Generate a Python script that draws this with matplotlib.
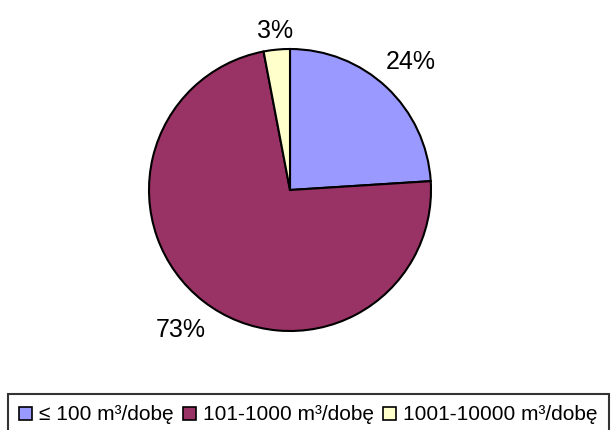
import numpy as np
import matplotlib
matplotlib.use('Agg')
from matplotlib import pyplot as plt

categories = ['≤ 100 m³/dobę', '101-1000 m³/dobę', '1001-10000 m³/dobę']
shares = [24, 73, 3]
labels = ['24%', '73%', '3%']
colors = ['#9999FF', '#993366', '#FFFFCC']
label_dist = [1.25, 1.26, 1.13]

plt.rcParams['font.family'] = ['Liberation Sans', 'DejaVu Sans']

fig = plt.figure(figsize=(6.13, 4.30), dpi=100)
W, H = 613, 430
cx, cy, r = 290, 190, 141
ax = fig.add_axes([(cx - r) / W, (H - cy - r) / H, 2 * r / W, 2 * r / H])

wedges, _ = ax.pie(shares, colors=colors, startangle=90, counterclock=False,
                   wedgeprops=dict(edgecolor='black', linewidth=1.5))
for w, lab, d in zip(wedges, labels, label_dist):
    ang = np.deg2rad((w.theta1 + w.theta2) / 2)
    ax.text(d * np.cos(ang), d * np.sin(ang), lab, ha='center', va='center',
            fontsize=18)
ax.set_xlim(-1, 1)
ax.set_ylim(-1, 1)
ax.axis('off')

leg = fig.legend(wedges, categories, loc='upper left', ncol=3,
                 bbox_to_anchor=(8 / W, 1 - 394 / H), fontsize=15,
                 frameon=True, fancybox=False, handlelength=0.6, handleheight=0.6,
                 handletextpad=0.35, columnspacing=0.45, borderpad=0.55,
                 borderaxespad=0)
leg.get_frame().set_edgecolor('black')
leg.get_frame().set_linewidth(1.5)
for h in leg.legend_handles:
    h.set_linewidth(1.2)

fig.savefig('out.png', dpi=100)
